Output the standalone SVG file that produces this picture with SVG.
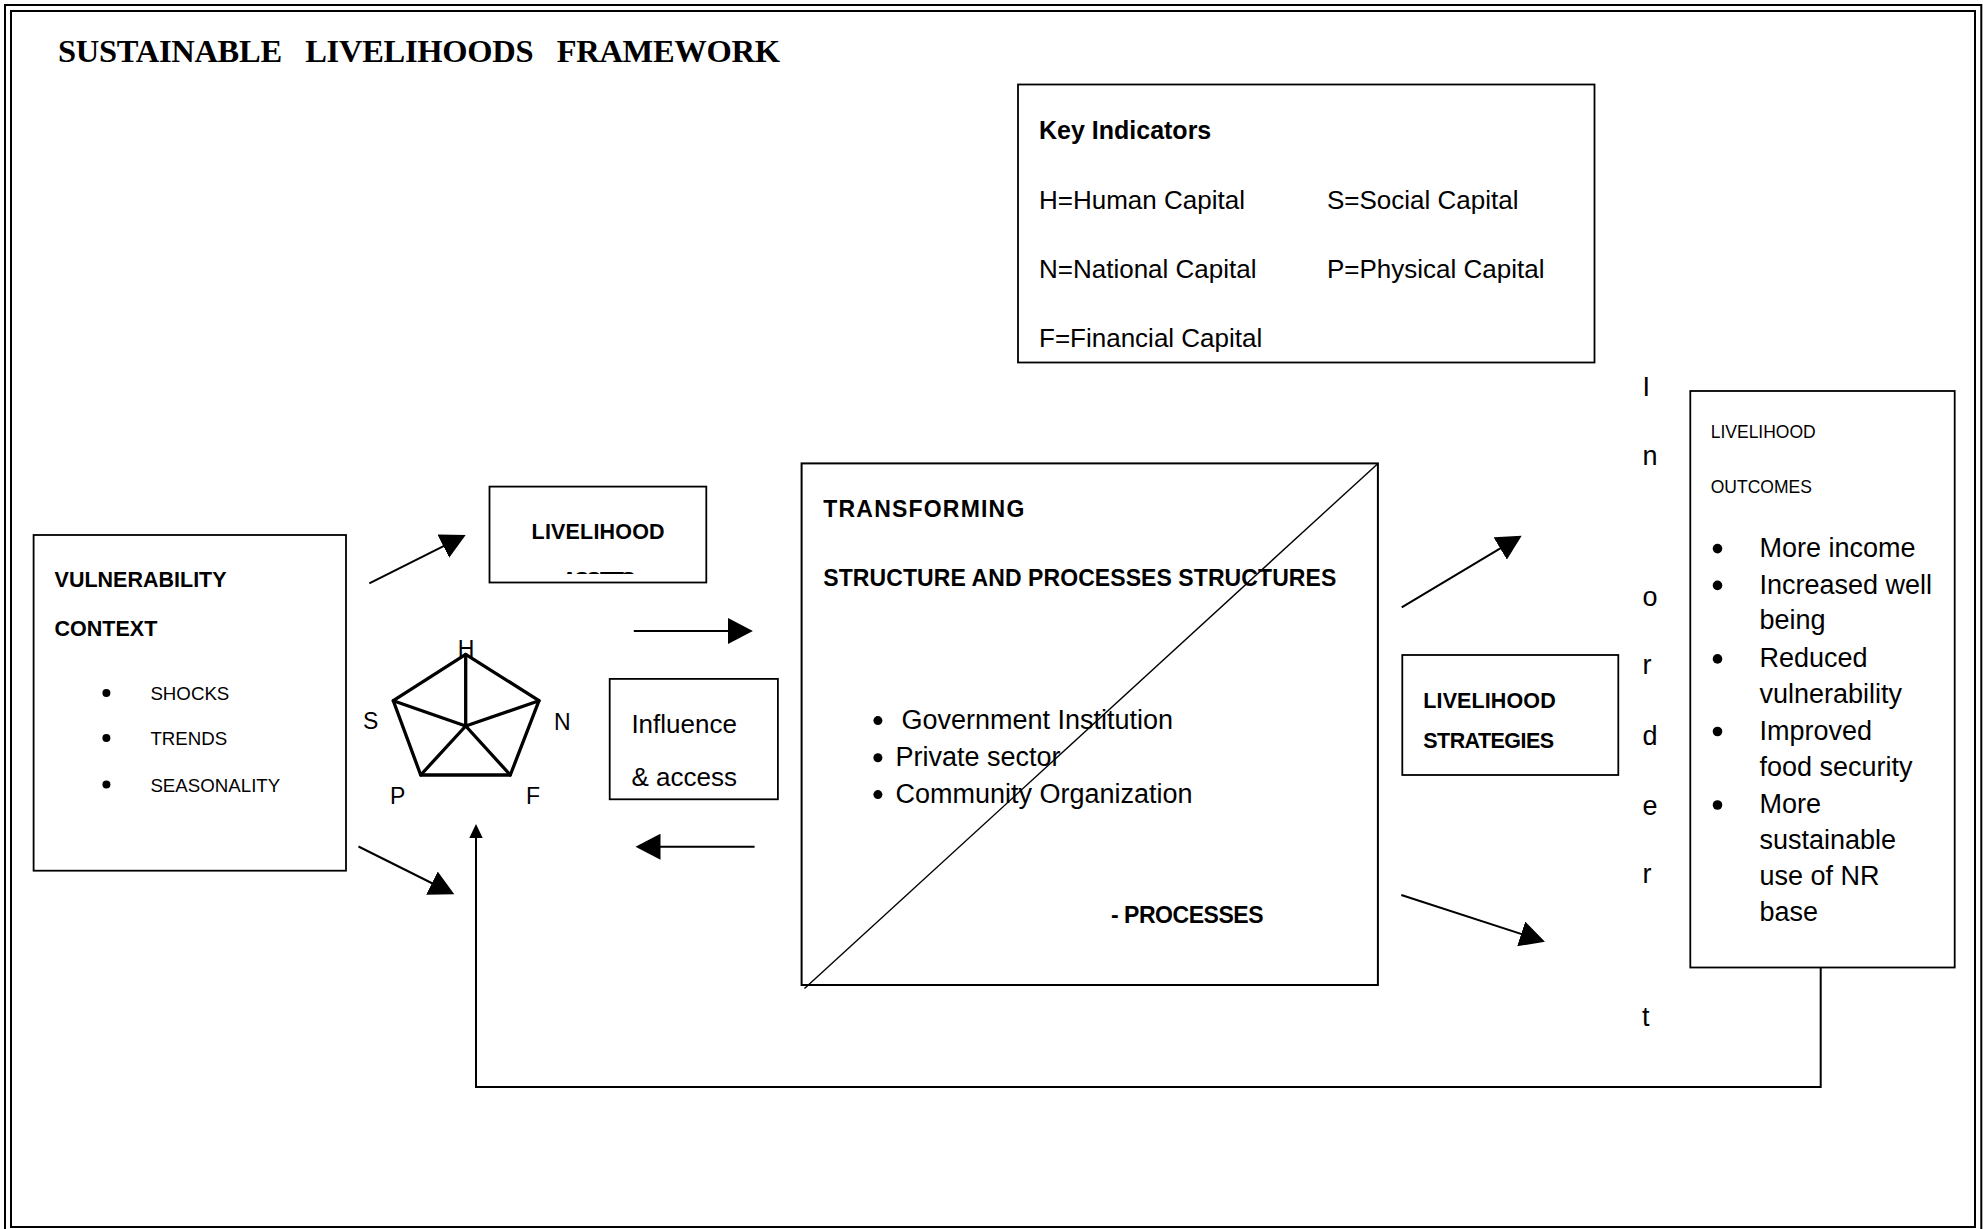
<svg xmlns="http://www.w3.org/2000/svg" width="1983" height="1229" viewBox="0 0 1983 1229">
<style>
  .frame{fill:none;stroke:#000;stroke-width:2}
  .box{fill:#fff;stroke:#000;stroke-width:1.8}
  .nofill{fill:none;stroke:#000;stroke-width:1.8}
  .conn{fill:none;stroke:#000;stroke-width:2}
  .pent{fill:none;stroke:#000;stroke-width:3.3;stroke-linejoin:round;stroke-linecap:round}
  text{font-family:"Liberation Sans",Arial,sans-serif;fill:#000}
  .title{font-family:"Liberation Serif","Times New Roman",serif;font-weight:bold;font-size:32.5px;white-space:pre}
  .r26{font-size:26px}
  .r27{font-size:27px}
  .r23{font-size:23px}
  .r19{font-size:18.7px}
  .r17{font-size:17.5px}
  .b25{font-size:25px;font-weight:bold}
  .b23{font-size:23px;font-weight:bold}
  .b21{font-size:21.5px;font-weight:bold}
  .dot{fill:#000}
</style>
<defs>
  <marker id="ah" markerUnits="userSpaceOnUse" markerWidth="26" markerHeight="26" refX="22" refY="13" orient="auto">
    <path d="M0,0 L25,13 L0,26 Z" fill="#000"/>
  </marker>
  <marker id="ahs" markerUnits="userSpaceOnUse" markerWidth="15" markerHeight="15" refX="11" refY="6.7" orient="auto">
    <path d="M0,0 L14,6.7 L0,13.4 Z" fill="#000"/>
  </marker>
  <clipPath id="assetsClip"><rect x="490" y="487" width="216" height="87"/></clipPath>
</defs>

<g id="page-frame">
  <rect class="frame" x="5" y="5" width="1976.3" height="1229"/>
  <rect class="frame" x="11" y="11" width="1964" height="1216"/>
</g>

<g id="title">
  <text class="title" x="58" y="62" textLength="722">SUSTAINABLE   LIVELIHOODS   FRAMEWORK</text>
</g>

<g id="key-indicators">
  <rect class="box" x="1018" y="84.5" width="576.5" height="278"/>
  <text class="b25" x="1039" y="138.5">Key Indicators</text>
  <text class="r26" x="1039" y="208.5">H=Human Capital</text>
  <text class="r26" x="1327" y="208.5">S=Social Capital</text>
  <text class="r26" x="1039" y="277.5">N=National Capital</text>
  <text class="r26" x="1327" y="277.5">P=Physical Capital</text>
  <text class="r26" x="1039" y="347">F=Financial Capital</text>
</g>

<g id="vulnerability-context">
  <rect class="box" x="33.6" y="535" width="312.4" height="335.7"/>
  <text class="b21" x="54.6" y="586.7">VULNERABILITY</text>
  <text class="b21" x="54.6" y="636">CONTEXT</text>
  <circle class="dot" cx="106.4" cy="693" r="4"/>
  <circle class="dot" cx="106.4" cy="738" r="4"/>
  <circle class="dot" cx="106.4" cy="784.5" r="4"/>
  <text class="r19" x="150.4" y="700">SHOCKS</text>
  <text class="r19" x="150.4" y="745">TRENDS</text>
  <text class="r19" x="150.4" y="791.7">SEASONALITY</text>
</g>

<g id="livelihood-assets">
  <rect class="box" x="489.5" y="486.6" width="216.8" height="95.9"/>
  <text class="b21" x="531.6" y="538.5" textLength="133">LIVELIHOOD</text>
  <text class="b21" x="561.7" y="586.5" textLength="74" clip-path="url(#assetsClip)">ASSETS</text>
</g>

<g id="asset-pentagon">
  <path class="pent" d="M465.7,654.3 L539,700.7 L510.3,775 L420.7,775 L393.3,700.7 Z"/>
  <path class="pent" d="M465.7,654.3 L465.7,726 M393.3,700.7 L465.7,726 L539,700.7 M420.7,775 L465.7,726 L510.3,775"/>
  <text class="r23" x="466" y="657" text-anchor="middle">H</text>
  <text class="r23" x="363" y="729.3">S</text>
  <text class="r23" x="554" y="730">N</text>
  <text class="r23" x="390" y="804">P</text>
  <text class="r23" x="526" y="803.5">F</text>
</g>

<g id="influence-access">
  <rect class="box" x="609.7" y="678.9" width="168.2" height="120.4"/>
  <text class="r26" x="631.4" y="732.7">Influence</text>
  <text class="r26" x="631.4" y="786.4">&amp; access</text>
</g>

<g id="transforming-structures">
  <rect class="nofill" x="801.6" y="463.4" width="576.3" height="521.6" style="stroke-width:2"/>
  <line x1="804.5" y1="988.6" x2="1378" y2="463.4" stroke="#000" stroke-width="1.4"/>
  <text class="b23" x="823.3" y="516.8" textLength="201">TRANSFORMING</text>
  <text class="b23" x="823.3" y="585.7" textLength="513" style="white-space:pre">STRUCTURE AND PROCESSES STRUCTURES</text>
  <circle class="dot" cx="877.9" cy="720.6" r="4.5"/>
  <circle class="dot" cx="877.9" cy="757.8" r="4.5"/>
  <circle class="dot" cx="877.9" cy="794.6" r="4.5"/>
  <text class="r27" x="901.4" y="728.6">Government Institution</text>
  <text class="r27" x="895.5" y="765.8">Private sector</text>
  <text class="r27" x="895.5" y="802.6">Community Organization</text>
  <text class="b23" x="1110.9" y="923" textLength="152.6" style="white-space:pre">- PROCESSES</text>
</g>

<g id="livelihood-strategies">
  <rect class="box" x="1402.3" y="655" width="216" height="120"/>
  <text class="b21" x="1423.3" y="708.3" textLength="132.4">LIVELIHOOD</text>
  <text class="b21" x="1423.3" y="748.3" textLength="130.7">STRATEGIES</text>
</g>

<g id="in-order-to">
  <text class="r27" x="1642.5" y="395.5">I</text>
  <text class="r27" x="1642.5" y="465.4">n</text>
  <text class="r27" x="1642.5" y="606">o</text>
  <text class="r27" x="1642.5" y="674">r</text>
  <text class="r27" x="1642.5" y="745">d</text>
  <text class="r27" x="1642.5" y="814.5">e</text>
  <text class="r27" x="1642.5" y="883">r</text>
  <text class="r27" x="1642" y="1025.5">t</text>
</g>

<g id="livelihood-outcomes">
  <rect class="box" x="1690.3" y="391" width="264.4" height="576.5"/>
  <text class="r17" x="1710.7" y="437.6">LIVELIHOOD</text>
  <text class="r17" x="1710.7" y="492.7">OUTCOMES</text>
  <circle class="dot" cx="1717.5" cy="548.6" r="4.8"/>
  <circle class="dot" cx="1717.5" cy="585.4" r="4.8"/>
  <circle class="dot" cx="1717.5" cy="658.9" r="4.8"/>
  <circle class="dot" cx="1717.5" cy="731.5" r="4.8"/>
  <circle class="dot" cx="1717.5" cy="805" r="4.8"/>
  <text class="r27" x="1759.5" y="556.7">More income</text>
  <text class="r27" x="1759.5" y="593.5">Increased well</text>
  <text class="r27" x="1759.5" y="629.4">being</text>
  <text class="r27" x="1759.5" y="667">Reduced</text>
  <text class="r27" x="1759.5" y="702.9">vulnerability</text>
  <text class="r27" x="1759.5" y="739.6">Improved</text>
  <text class="r27" x="1759.5" y="776.3">food security</text>
  <text class="r27" x="1759.5" y="813">More</text>
  <text class="r27" x="1759.5" y="849">sustainable</text>
  <text class="r27" x="1759.5" y="884.5">use of NR</text>
  <text class="r27" x="1759.5" y="921.2">base</text>
</g>

<g id="connectors">
  <line class="conn" x1="369.3" y1="583.3" x2="463" y2="536.3" marker-end="url(#ah)"/>
  <line class="conn" x1="358.5" y1="846.5" x2="451.6" y2="893" marker-end="url(#ah)"/>
  <line class="conn" x1="633.8" y1="631" x2="749.9" y2="631" marker-end="url(#ah)"/>
  <line class="conn" x1="754.6" y1="846.7" x2="638.5" y2="846.7" marker-end="url(#ah)"/>
  <line class="conn" x1="1401.7" y1="607.3" x2="1519.1" y2="537.2" marker-end="url(#ah)"/>
  <line class="conn" x1="1401.3" y1="895" x2="1542.1" y2="940.7" marker-end="url(#ah)"/>
  <polyline class="conn" points="1820.7,967.5 1820.7,1087 476,1087 476,827" marker-end="url(#ahs)"/>
</g>
</svg>
